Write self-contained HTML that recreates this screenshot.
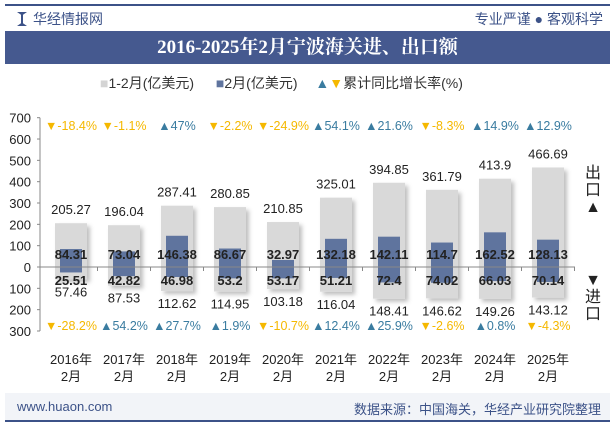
<!DOCTYPE html>
<html><head><meta charset="utf-8">
<style>
body{margin:0;width:615px;height:427px;background:#fff;font-family:"Liberation Sans","Noto Sans CJK SC",sans-serif;overflow:hidden;position:relative}
.abs{position:absolute}
</style></head><body>
<div class="abs" style="left:5px;top:4px;width:605px;height:2px;background:#3c5288"></div>
<div class="abs" style="left:17px;top:12px;width:10px;height:14px;background:#3c5288;clip-path:polygon(0 0,40% 20%,40% 80%,0 100%,100% 100%,60% 80%,60% 20%,100% 0)"></div>
<div class="abs" style="left:33px;top:9px;font-size:14px;color:#3c5288">华经情报网</div>
<div class="abs" style="right:12px;top:9px;font-size:14px;color:#3c5288">专业严谨 ● 客观科学</div>
<div class="abs" style="left:5px;top:31px;width:605px;height:33px;background:#45598f;color:#fff;font-family:'Liberation Serif','Noto Serif CJK SC',serif;font-weight:bold;font-size:19px;text-align:center;line-height:33px">2016-2025年2月宁波海关进、出口额</div>
<div class="abs" style="left:100px;top:73px;font-size:14px;color:#333;white-space:nowrap">
<span><span style="color:#d4d4d4">■</span>1-2月(亿美元)</span>
<span style="margin-left:18px"><span style="color:#5f749e">■</span>2月(亿美元)</span>
<span style="margin-left:14px"><span style="color:#3a7ca0">▲</span><span style="color:#f5b800">▼</span>累计同比增长率(%)</span>
</div>
<svg class="abs" style="left:0;top:0" width="615" height="427" id="chart">
<defs><filter id="sh" x="-20%" y="-20%" width="150%" height="150%"><feDropShadow dx="3" dy="3" stdDeviation="2" flood-color="#000" flood-opacity="0.25"/></filter></defs>
</svg>
<div class="abs" style="left:584px;top:165px;font-size:16px;color:#222;width:18px;line-height:17px;text-align:center">出<br>口<br>▲</div>
<div class="abs" style="left:584px;top:272px;font-size:16px;color:#222;width:18px;line-height:17px;text-align:center">▼<br>进<br>口</div>
<div class="abs" style="left:5px;top:393px;width:605px;height:27px;background:#f2f4f8"></div>
<div class="abs" style="left:5px;top:420px;width:605px;height:2px;background:#3c5288"></div>
<div class="abs" style="left:17px;top:399px;font-size:13px;color:#3c5288">www.huaon.com</div>
<div class="abs" style="right:14px;top:399px;font-size:13px;color:#3c5288">数据来源：中国海关，华经产业研究院整理</div>
<script>
const years=["2016年","2017年","2018年","2019年","2020年","2021年","2022年","2023年","2024年","2025年"];
const exportTotal=[205.27,196.04,287.41,280.85,210.85,325.01,394.85,361.79,413.9,466.69];
const exportFeb=[84.31,73.04,146.38,86.67,32.97,132.18,142.11,114.7,162.52,128.13];
const importFeb=[25.51,42.82,46.98,53.2,53.17,51.21,72.4,74.02,66.03,70.14];
const importTotal=[57.46,87.53,112.62,114.95,103.18,116.04,148.41,146.62,149.26,143.12];
const exportGrowth=[-18.4,-1.1,47,-2.2,-24.9,54.1,21.6,-8.3,14.9,12.9];
const importGrowth=[-28.2,54.2,27.7,1.9,-10.7,12.4,25.9,-2.6,0.8,-4.3];
const yTicks=[700,600,500,400,300,200,100,0,-100,-200,-300];
const svg=document.getElementById('chart');
const NS='http://www.w3.org/2000/svg';
const y0=267,k=0.2133;
function y(v){return y0-v*k;}
function x(i){return 71+i*53;}
function mk(tag,attrs,txt){const e=document.createElementNS(NS,tag);for(const a in attrs)e.setAttribute(a,attrs[a]);if(txt!=null)e.textContent=txt;svg.appendChild(e);return e;}
let ax=mk('line',{x1:40,y1:y(700),x2:40,y2:y(-300),stroke:'#888'});


yTicks.forEach(t=>{
 let tl=mk('text',{x:31,y:y(t)+5,'text-anchor':'end','font-size':13,fill:'#222'},Math.abs(t));
 
 
 mk('line',{x1:37,x2:40,y1:y(t),y2:y(t),stroke:'#888'});
});
years.forEach((yr,i)=>{
 const cx=x(i);
 let g=mk('rect',{x:cx-16,y:y(exportTotal[i]),width:32,height:(exportTotal[i]+importTotal[i])*k,fill:'#d9d9d9',filter:'url(#sh)'});
 
 
 let b=mk('rect',{x:cx-11,y:y(exportFeb[i]),width:22,height:(exportFeb[i]+importFeb[i])*k,fill:'#5f749e'});
 
 
 let t1=mk('text',{x:cx,y:y(exportTotal[i])-9,'text-anchor':'middle','font-size':13,fill:'#222'},exportTotal[i]);
 
 
 let t2=mk('text',{x:cx,y:y(-importTotal[i])+17,'text-anchor':'middle','font-size':13,fill:'#222'},importTotal[i]);
 
 
 let t3=mk('text',{x:cx,y:259,'text-anchor':'middle','font-size':13,'font-weight':'bold',fill:'#222'},exportFeb[i]);
 
 
 let t4=mk('text',{x:cx,y:285,'text-anchor':'middle','font-size':13,'font-weight':'bold',fill:'#222'},importFeb[i]);
 
 
 [[exportGrowth[i],130,'export-growth-label'],[importGrowth[i],330,'import-growth-label']].forEach(([v,yy,nm])=>{
  const up=v>=0;
  let t=mk('text',{x:cx,y:yy,'text-anchor':'middle','font-size':12.5,fill:up?'#3a7ca0':'#f5b800'},(up?'▲':'▼')+v+'%');
  
  
 });
 mk('line',{x1:cx+26.5,x2:cx+26.5,y1:y0,y2:y0+4,stroke:'#888'});
 let xl=mk('text',{x:cx,y:364,'text-anchor':'middle','font-size':13,fill:'#222'},yr);
 
 
 let xl2=mk('text',{x:cx,y:381,'text-anchor':'middle','font-size':13,fill:'#222'},'2月');
 
 
});
let zl=mk('line',{x1:40,x2:575,y1:y0,y2:y0,stroke:'#888'});


</script>
</body></html>
